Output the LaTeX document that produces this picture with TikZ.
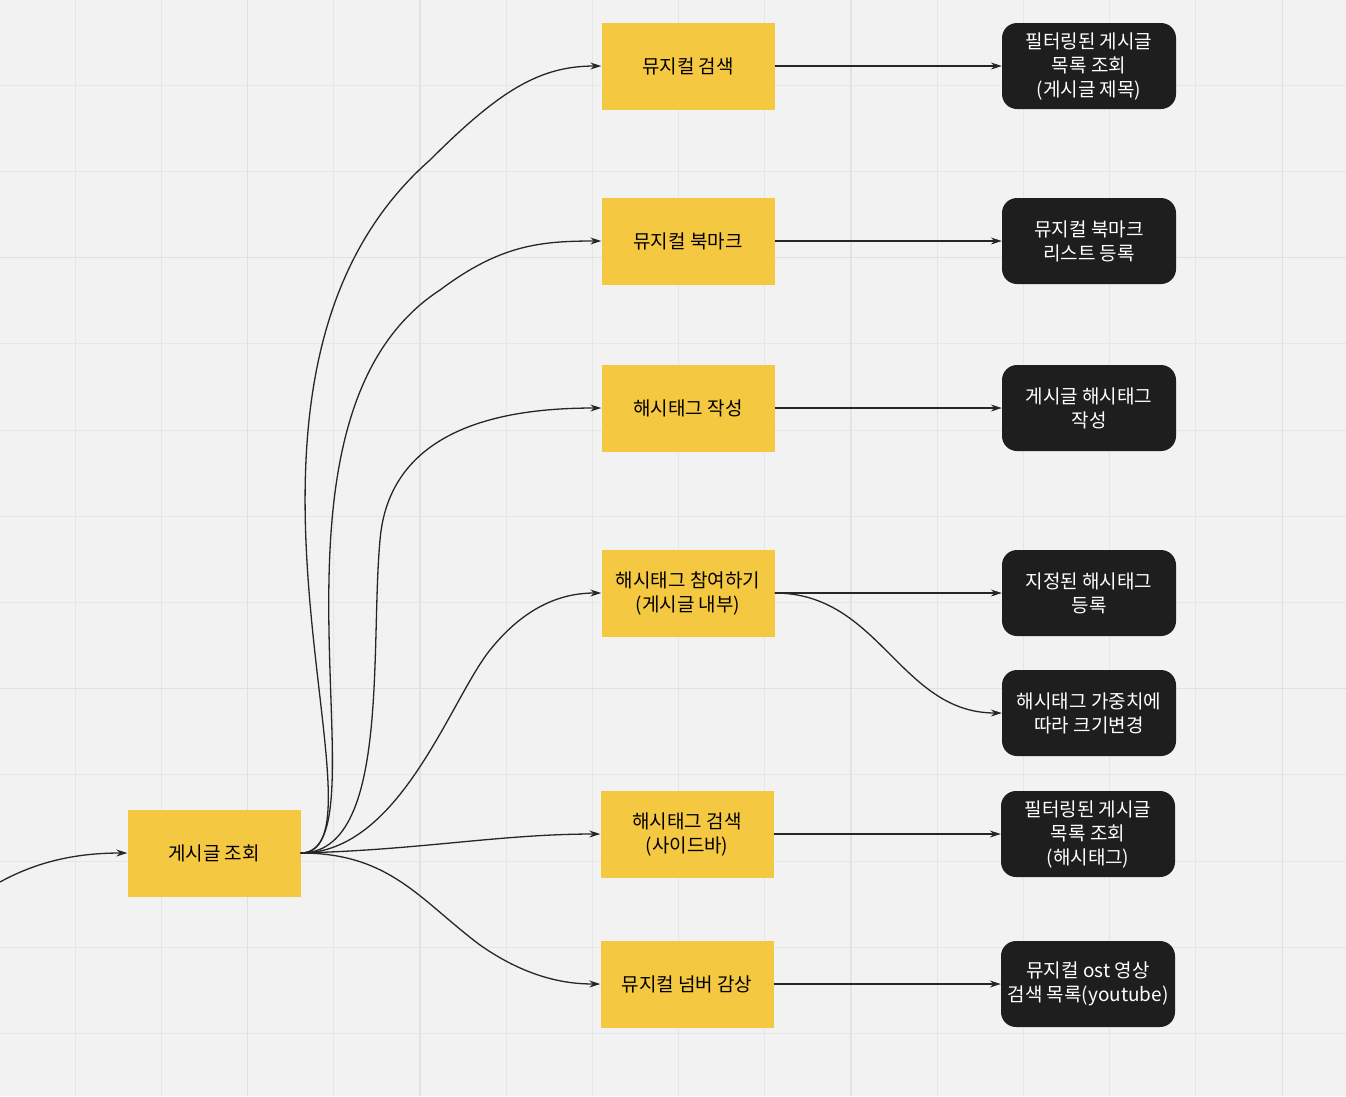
\documentclass[tikz,border=0pt]{standalone}
\usepackage{fontspec}
\setmainfont{Noto Sans CJK KR}
\usetikzlibrary{arrows.meta}
\definecolor{bg}{HTML}{F2F2F2}
\definecolor{grd}{HTML}{E6E6E6}
\definecolor{yel}{HTML}{F5C842}
\definecolor{blk}{HTML}{1E1E1E}
\tikzset{
 ybox/.style={fill=yel,minimum width=173pt,minimum height=87pt,align=center,font=\fontsize{19}{24}\selectfont},
 bbox/.style={fill=blk,text=white,rounded corners=15pt,minimum width=174pt,minimum height=86pt,align=center,font=\fontsize{19}{24}\selectfont},
 conn/.style={draw=black!85,line width=1.3pt,-{Stealth[length=11pt,width=7pt]}}
}
\begin{document}
\begin{tikzpicture}[x=1pt,y=-1pt]
\fill[bg] (0,0) rectangle (1346,1096);
\useasboundingbox (0,0) rectangle (1346,1096);
\foreach \i in {0,...,15} {\draw[grd,line width=1pt] ({-11+86.2*\i},0) -- ({-11+86.2*\i},1096);}
\foreach \j in {0,...,12} {\draw[grd,line width=1pt] (0,{-1+86.2*\j}) -- (1346,{-1+86.2*\j});}
\foreach \xx in {247,419,850,1282} {\draw[black!12,line width=1pt] (\xx,0) -- (\xx,1096);}
\foreach \yy in {257,688} {\draw[black!12,line width=1pt] (0,\yy) -- (1346,\yy);}

\node[ybox] (root) at (214,853) {게시글 조회};
\node[ybox] (y1) at (688,66) {뮤지컬 검색};
\node[ybox] (y2) at (688,241) {뮤지컬 북마크};
\node[ybox] (y3) at (688,408) {해시태그 작성};
\node[ybox] (y4) at (688,593) {해시태그 참여하기\\(게시글 내부)};
\node[ybox] (y5) at (687,834) {해시태그 검색\\(사이드바)};
\node[ybox] (y6) at (687,984) {뮤지컬 넘버 감상};

\node[bbox] (b1) at (1089,66) {필터링된 게시글\\목록 조회\\(게시글 제목)};
\node[bbox] (b2) at (1089,241) {뮤지컬 북마크\\리스트 등록};
\node[bbox] (b3) at (1089,408) {게시글 해시태그\\작성};
\node[bbox] (b4) at (1089,593) {지정된 해시태그\\등록};
\node[bbox] (b5) at (1089,713) {해시태그 가중치에\\따라 크기변경};
\node[bbox] (b6) at (1088,834) {필터링된 게시글\\목록 조회\\(해시태그)};
\node[bbox] (b7) at (1088,984) {뮤지컬 ost 영상\\검색 목록(youtube)};

\coordinate (in) at (0,882);
\draw[conn] (in) .. controls (40,860) and (80,853) .. (root.west);
\draw[conn] (root.east) .. controls (400,853) and (180,380) .. (430,160) .. controls (500,90) and (540,66) .. (y1.west);
\draw[conn] (root.east) .. controls (390,853) and (240,420) .. (440,290) .. controls (500,245) and (540,241) .. (y2.west);
\draw[conn] (root.east) .. controls (390,853) and (370,650) .. (380,540) .. controls (390,420) and (520,408) .. (y3.west);
\draw[conn] (root.east) .. controls (400,853) and (450,700) .. (490,650) .. controls (530,600) and (570,593) .. (y4.west);
\draw[conn] (root.east) .. controls (420,850) and (500,834) .. (y5.west);
\draw[conn] (root.east) .. controls (390,853) and (420,900) .. (480,945) .. controls (530,980) and (570,984) .. (y6.west);

\draw[conn] (y1.east) -- (b1.west);
\draw[conn] (y2.east) -- (b2.west);
\draw[conn] (y3.east) -- (b3.west);
\draw[conn] (y4.east) -- (b4.west);
\draw[conn] (y4.east) .. controls (880,593) and (900,713) .. (b5.west);
\draw[conn] (y5.east) -- (b6.west);
\draw[conn] (y6.east) -- (b7.west);
\end{tikzpicture}
\end{document}
